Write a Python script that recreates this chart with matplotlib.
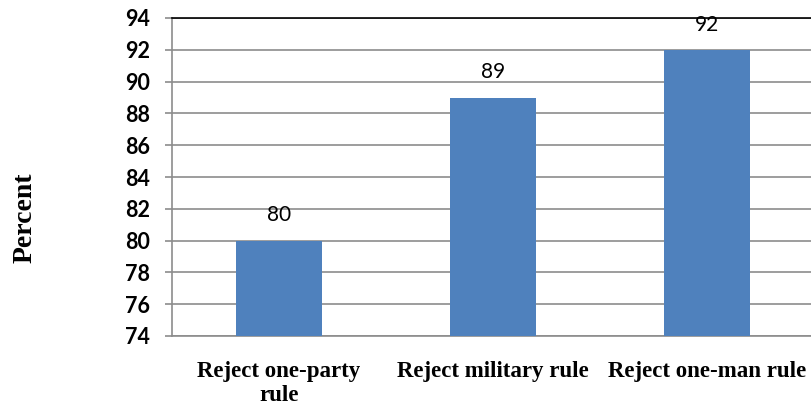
import matplotlib
matplotlib.use("Agg")
import matplotlib.pyplot as plt

categories = ["Reject one-party\nrule", "Reject military rule", "Reject one-man rule"]
percents = [80, 89, 92]
yticks = [74, 76, 78, 80, 82, 84, 86, 88, 90, 92, 94]

BAR_BLUE = "#4F81BD"
GRID_GRAY = "#8C8C8C"

fig = plt.figure(figsize=(8.12, 4.09), dpi=100)
ax = fig.add_axes([172 / 812, 73 / 409, 642 / 812, 318 / 409])

x = list(range(len(categories)))
bars = ax.bar(x, percents, width=0.4, color=BAR_BLUE, zorder=3)

ax.set_xlim(-0.5, 2.5)
ax.set_ylim(74, 94)
ax.set_yticks(yticks)
ax.set_yticklabels([str(t) for t in yticks], fontfamily="Lato",
                   fontweight="bold", fontsize=15.5)
ax.yaxis.grid(True, color=GRID_GRAY, linewidth=1.2, zorder=0)
ax.tick_params(axis="y", length=5, width=1.2, color=GRID_GRAY, pad=11)
ax.tick_params(axis="x", length=0, pad=18)

ax.set_xticks(x)
ax.set_xticklabels(categories, fontfamily="Liberation Serif",
                   fontweight="bold", fontsize=16.5, linespacing=1.2)

for side in ["left", "bottom"]:
    ax.spines[side].set_color(GRID_GRAY)
    ax.spines[side].set_linewidth(1.2)
ax.spines["top"].set_color("black")
ax.spines["top"].set_linewidth(1.2)
ax.spines["right"].set_visible(False)

for bar, val in zip(bars, percents):
    ax.annotate(str(val), xy=(bar.get_x() + bar.get_width() / 2, val),
                xytext=(0, 11), textcoords="offset points",
                ha="center", va="bottom", fontfamily="Lato", fontsize=15)

fig.text(25 / 812, 1 - 218 / 409, "Percent", rotation=90,
         ha="center", va="center", fontfamily="Liberation Serif",
         fontweight="bold", fontsize=20)

fig.savefig("out.png", dpi=100)
